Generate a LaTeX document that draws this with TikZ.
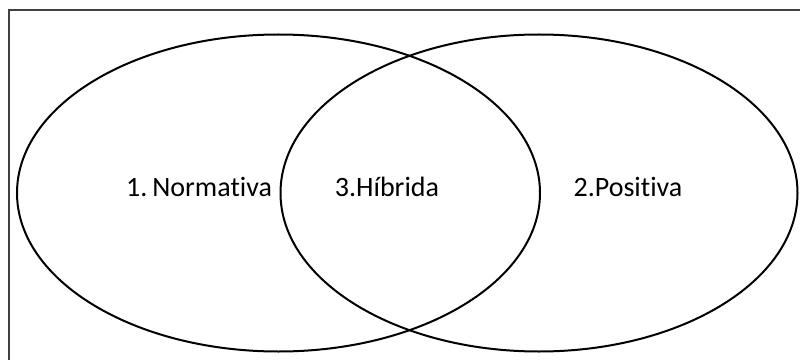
\documentclass[tikz,border=0pt]{standalone}
\usepackage{fontspec}
\setmainfont[Ligatures={NoCommon}]{Carlito}
\usetikzlibrary{shapes.geometric}
\begin{document}
\begin{tikzpicture}[x=0.75pt,y=-0.75pt,
  setcircle/.style={ellipse,draw=black,line width=1.5pt,inner sep=0pt},
  label/.style={font=\fontsize{21}{25}\selectfont,inner sep=0pt,anchor=base}]
\useasboundingbox (0,0) rectangle (800,360);
\draw[line width=1pt,draw=black!75] (9,361) -- (9,10) -- (801,10);
\node[setcircle,minimum width=392.25pt,minimum height=237.75pt] (norm) at (278.5,193) {};
\node[setcircle,minimum width=387.75pt,minimum height=237.75pt] (pos) at (539,193) {};
\node[label] (t1) at (199,196) {1.\hspace{0.18em}Normativa};
\node[label] (t3) at (387,196) {3.Híbrida};
\node[label] (t2) at (628,196) {2.Positiva};
\end{tikzpicture}
\end{document}
